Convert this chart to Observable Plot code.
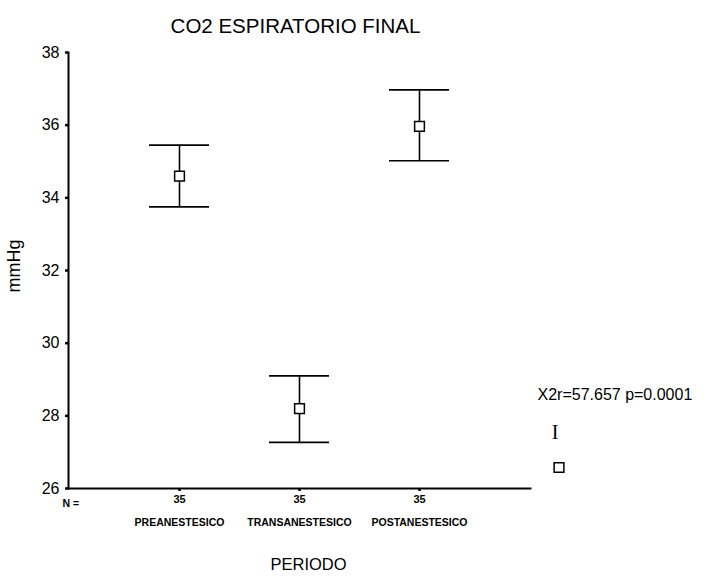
<!DOCTYPE html>
<html><head><meta charset="utf-8">
<script src="https://cdn.jsdelivr.net/npm/d3@7"></script>
<script src="https://cdn.jsdelivr.net/npm/@observablehq/plot@0.6"></script>
<style>body{margin:0;background:#fff} svg{font-family:Arial,"Liberation Sans",sans-serif}</style>
</head><body><div id="chart"></div>
<script>
const periods = ["PREANESTESICO", "TRANSANESTESICO", "POSTANESTESICO"];
const means = [34.6, 28.2, 35.97];
const upper = [35.45, 29.1, 36.97];
const lower = [33.75, 27.27, 35.02];
const nValues = [35, 35, 35];
const yTicks = [26, 28, 30, 32, 34, 36, 38];
const title = "CO2 ESPIRATORIO FINAL";
const yLabel = "mmHg";
const xLabel = "PERIODO";
const nLabel = "N =";
const statText = "X2r=57.657 p=0.0001";

const data = periods.map((p, i) => ({p, mean: means[i], hi: upper[i], lo: lower[i], n: nValues[i]}));
const narrow = "'Liberation Sans Narrow','Arial Narrow',Arial,sans-serif";

const chart = Plot.plot({
  width: 704, height: 582,
  marginLeft: 68, marginRight: 174, marginTop: 52, marginBottom: 94,
  x: {type: "band", domain: periods, paddingInner: 0.5, paddingOuter: 0.675},
  y: {domain: [26, 38]},
  marks: [
    Plot.axisY({ticks: yTicks, tickSize: 3, tickPadding: 6, fontSize: 16, label: null, strokeWidth: 2.5}),
    Plot.axisX({tickSize: 3, tickFormat: () => "", label: null, strokeWidth: 2.5}),
    Plot.frame({anchor: "left", strokeWidth: 2}),
    Plot.frame({anchor: "bottom", strokeWidth: 2}),
    Plot.ruleX(data, {x: "p", y1: "lo", y2: "hi", strokeWidth: 1.6}),
    Plot.tickY(data, {x: "p", y: "hi", strokeWidth: 1.6}),
    Plot.tickY(data, {x: "p", y: "lo", strokeWidth: 1.6}),
    Plot.dot(data, {x: "p", y: "mean", symbol: "square", r: 5.5, stroke: "black", fill: "white", strokeWidth: 1.5}),
    Plot.text(data, {x: "p", text: "n", frameAnchor: "bottom", dy: 14, fontSize: 11, fontWeight: "bold", fontFamily: narrow}),
    Plot.text(data, {x: "p", text: "p", frameAnchor: "bottom", dy: 37, fontSize: 10.5, fontWeight: "bold", fontFamily: narrow}),
    Plot.text([nLabel], {frameAnchor: "bottom-left", dx: -6, dy: 18, textAnchor: "start", fontSize: 10.5, fontWeight: "bold", fontFamily: narrow}),
    Plot.text([title], {frameAnchor: "top", dy: -34, dx: -4, fontSize: 20.5}),
    Plot.text([yLabel], {frameAnchor: "left", rotate: -90, dx: -54, dy: 22, fontSize: 18}),
    Plot.text([xLabel], {frameAnchor: "bottom", dx: 9, dy: 81, fontSize: 16.5}),
    Plot.text([statText], {frameAnchor: "bottom-right", dx: 7, dy: -89, textAnchor: "start", fontSize: 16}),
    Plot.text(["I"], {frameAnchor: "bottom-right", dx: 28, dy: -50, fontSize: 20, fontFamily: "'Liberation Serif',serif"}),
    Plot.dot([0], {frameAnchor: "bottom-right", dx: 28.5, dy: -21, symbol: "square", r: 5.5, stroke: "black", strokeWidth: 1.5})
  ]
});
document.getElementById("chart").append(chart);
</script>
</body></html>
